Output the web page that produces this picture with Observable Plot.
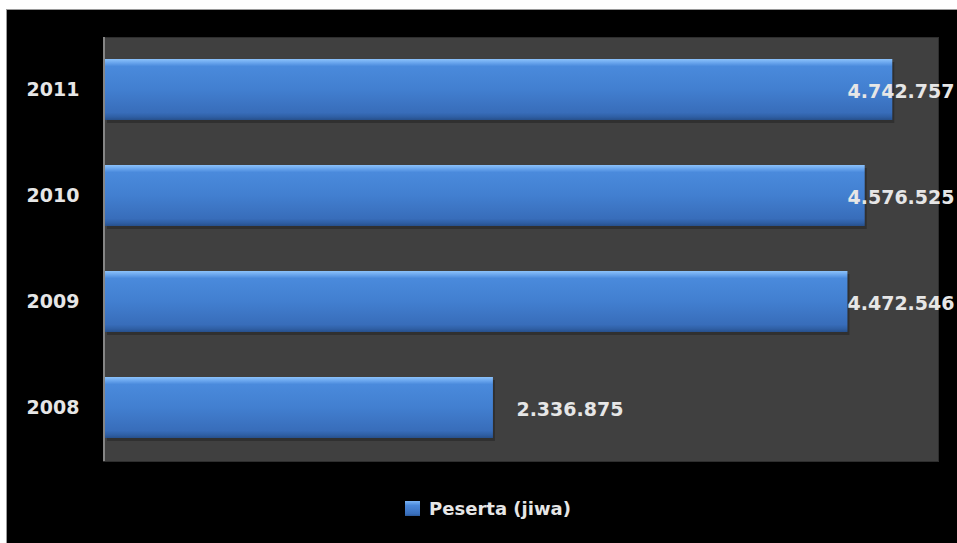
<!DOCTYPE html>
<html>
<head>
<meta charset="utf-8">
<script src="https://cdn.jsdelivr.net/npm/d3@7"></script>
<script src="https://cdn.jsdelivr.net/npm/@observablehq/plot@0.6"></script>
<style>
  html, body { margin: 0; padding: 0; background: #ffffff; overflow: hidden; }
  #box {
    position: absolute; left: 6px; top: 9px; width: 960px; height: 545px;
    background: #000; border-left: 1px solid #9a9a9a; border-top: 1px solid #9a9a9a;
  }
  #legend {
    position: absolute; left: 0; top: 490px; width: 950px; text-align: center;
    font-family: "DejaVu Sans", sans-serif; font-weight: bold; font-size: 18px;
    color: #e6e6e6; padding-left: 12px; box-sizing: border-box; line-height: 18px;
  }
  #legend .sw {
    display: inline-block; width: 15px; height: 15px; vertical-align: -1px; margin-right: 9px;
    background: linear-gradient(#7ab4f5 0%, #4a88da 30%, #3a70bd 85%, #2c5a9c 100%);
  }
</style>
</head>
<body>
<div id="box"><div id="chart"></div><div id="legend"><span class="sw"></span>Peserta (jiwa)</div></div>
<script>
const years = ["2011", "2010", "2009", "2008"];
const peserta = [4742757, 4576525, 4472546, 2336875];
const seriesName = "Peserta (jiwa)";

const data = years.map((y, i) => ({year: y, value: peserta[i]}));
const fmt = v => d3.format(",")(v).replace(/,/g, ".");

const W = 950, H = 470, ML = 96, MR = 19, MT = 27, MB = H - 451;
const xMax = 5000000;

const plot = Plot.plot({
  width: W,
  height: H,
  marginLeft: ML,
  marginRight: MR,
  marginTop: MT,
  marginBottom: MB,
  style: {background: "#000", color: "#e6e6e6", fontFamily: "DejaVu Sans, sans-serif", fontWeight: "bold", fontSize: "19px", overflow: "visible"},
  x: {domain: [0, xMax], insetLeft: 2, insetRight: 3, axis: null},
  y: {domain: years, paddingInner: 0.42, paddingOuter: 0.21, label: null, tickSize: 0, tickPadding: 24},
  marks: [
    Plot.frame({fill: "#404040", stroke: "#2e2e2e"}),
    Plot.barX(data, {y: "year", x: "value", fill: "#000", fillOpacity: 0.25, dx: 2, dy: 3}),
    Plot.barX(data, {y: "year", x: "value", fill: "url(#barGrad)"}),
    Plot.ruleX([0], {stroke: "#858585", strokeWidth: 2, dx: -1.5}),
    Plot.text(data.filter(d => d.value < 4000000), {
      y: "year", x: "value", text: d => fmt(d.value), textAnchor: "start", dx: 23, dy: 2,
      fill: "#e6e6e6", fontSize: 19, fontWeight: "bold"
    }),
    Plot.text(data.filter(d => d.value >= 4000000), {
      y: "year", frameAnchor: "right", text: d => fmt(d.value), textAnchor: "end", dx: 16, dy: 2,
      fill: "#e6e6e6", fontSize: 19, fontWeight: "bold"
    })
  ]
});

const svg = d3.select(plot);
const defs = svg.insert("defs", ":first-child");
const g = defs.append("linearGradient").attr("id", "barGrad").attr("x1", 0).attr("y1", 0).attr("x2", 0).attr("y2", 1);
[[0, "#8cc2fa"], [0.06, "#6aa6ee"], [0.12, "#4a8adc"], [0.5, "#427fd0"], [0.88, "#386dba"], [0.95, "#2f5fa4"], [1, "#27508c"]]
  .forEach(([o, c]) => g.append("stop").attr("offset", o).attr("stop-color", c));

document.getElementById("chart").appendChild(plot);
</script>
</body>
</html>
